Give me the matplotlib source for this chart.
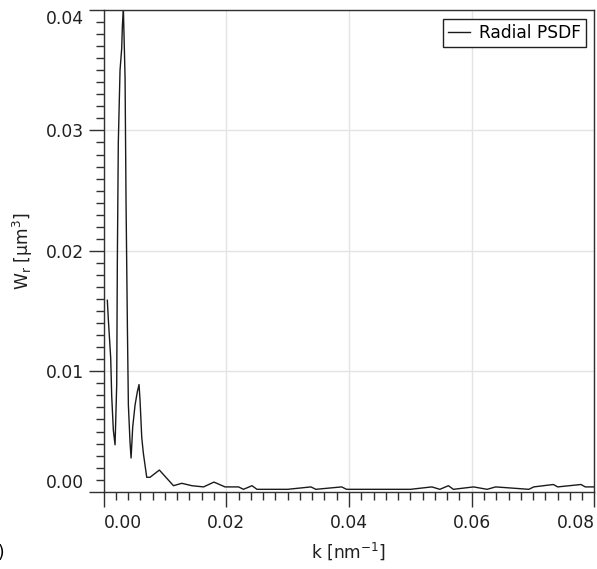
import numpy as np
import matplotlib
matplotlib.use("Agg")
import matplotlib.pyplot as plt
from matplotlib.ticker import MultipleLocator

# radial PSDF
k = [0.00062, 0.00079, 0.00117, 0.00133, 0.00160, 0.00188, 0.00215, 0.00225,
     0.00241, 0.00269, 0.00296, 0.00307, 0.00323, 0.00351, 0.00367, 0.00389,
     0.00405, 0.00432, 0.00449, 0.00476, 0.00514, 0.00551, 0.00579, 0.00595,
     0.00623, 0.00649, 0.00704, 0.00758, 0.00910, 0.01140, 0.01275, 0.01440,
     0.01630, 0.01800, 0.01980, 0.02200, 0.02280, 0.02420, 0.02500, 0.03000,
     0.03380, 0.03460, 0.03880, 0.03960, 0.05000, 0.05350, 0.05480, 0.05620,
     0.05700, 0.06030, 0.06250, 0.06390, 0.06930, 0.07010, 0.07330, 0.07400,
     0.07780, 0.07850, 0.08000]
w = [0.0159, 0.01426, 0.0111, 0.0080, 0.0051, 0.0039, 0.0089, 0.0190,
     0.0290, 0.0350, 0.0368, 0.0386, 0.0402, 0.0344, 0.0240, 0.0137,
     0.0072, 0.0041, 0.0028, 0.0054, 0.0072, 0.0083, 0.0089, 0.0076,
     0.0045, 0.0032, 0.0012, 0.0012, 0.0018, 0.0005, 0.0007, 0.0005,
     0.0004, 0.0008, 0.0004, 0.0004, 0.0002, 0.0005, 0.0002, 0.0002,
     0.0004, 0.0002, 0.0004, 0.0002, 0.0002, 0.0004, 0.0002, 0.0005,
     0.0002, 0.0004, 0.0002, 0.0004, 0.0002, 0.0004, 0.0006, 0.0004,
     0.0006, 0.0004, 0.0004]

xticks = [0.00, 0.02, 0.04, 0.06, 0.08]
yticks = [0.00, 0.01, 0.02, 0.03, 0.04]

plt.rcParams['font.family'] = ['DejaVu Sans']
plt.rcParams['mathtext.default'] = 'regular'
fs = 12.3

fig = plt.figure(figsize=(5.97, 5.69), dpi=100)
ax = fig.add_axes([0.1734, 0.1358, 0.8224, 0.8466])

ax.plot(k, w, color='#1a1a1a', lw=1.0, label='Radial PSDF')
ax.set_xlim(0, 0.08)
ax.set_ylim(0, 0.04)

ax.set_xticks(xticks)
ax.set_xticklabels(['%.2f' % v for v in xticks])
ax.set_yticks(yticks)
ax.set_yticklabels(['%.2f' % v for v in yticks])
ax.xaxis.set_minor_locator(MultipleLocator(0.002))
ax.yaxis.set_minor_locator(MultipleLocator(0.001))

ax.tick_params(which='major', direction='out', length=10.8, width=1.0,
               color='#303030', labelsize=fs, labelcolor='#202020')
ax.tick_params(axis='x', which='major', pad=5)
ax.tick_params(axis='y', which='major', pad=3)
ax.tick_params(which='minor', direction='out', length=6, width=1.0,
               color='#303030')
ax.grid(which='major', color='#e4e4e4', lw=1.0)
ax.set_axisbelow(True)
for s in ax.spines.values():
    s.set_color('#303030')
    s.set_linewidth(1.0)

xl = ax.get_xticklabels()
xl[0].set_ha('left')
xl[-1].set_ha('right')
yl = ax.get_yticklabels()
yl[0].set_va('bottom')
yl[-1].set_va('top')

ax.set_xlabel('k [nm$^{-1}$]', fontsize=fs, labelpad=6, color='#202020')
ax.set_ylabel('W$_r$ [μm$^3$]', fontsize=fs, labelpad=8, color='#202020')

leg = ax.legend(loc='upper right', fontsize=fs, handlelength=1.3,
                fancybox=False, framealpha=1, borderaxespad=0.5,
                handletextpad=0.5, borderpad=0.3)
leg.get_frame().set_edgecolor('#202020')
leg.get_frame().set_linewidth(1.0)

fig.text(0.008, 0.012, 'b)', ha='right', va='bottom', fontsize=fs)

fig.savefig('out.png', dpi=100)
